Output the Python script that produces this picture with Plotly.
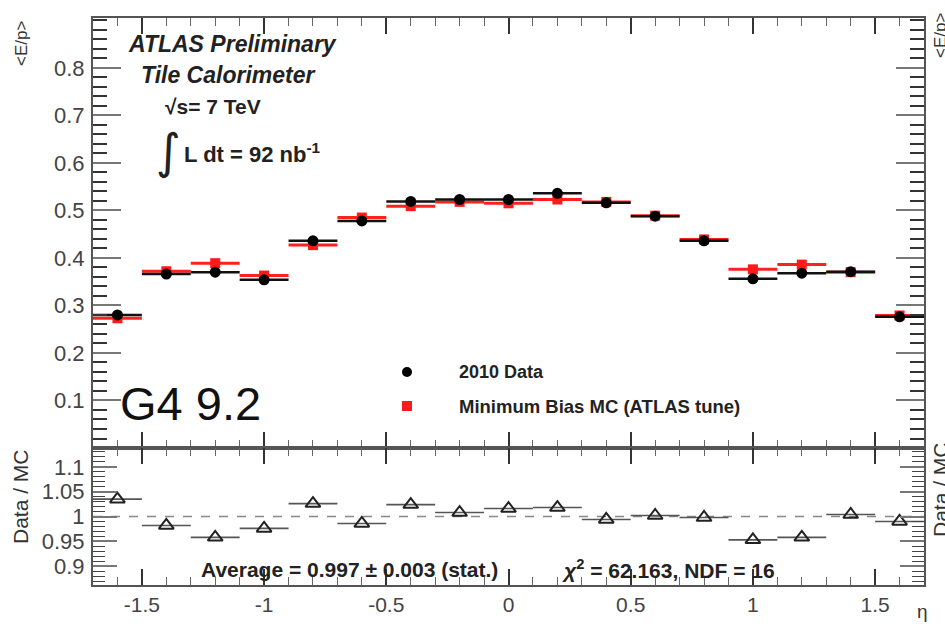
import plotly.graph_objects as go

# ---------------- data ----------------
eta = [-1.6, -1.4, -1.2, -1.0, -0.8, -0.6, -0.4, -0.2, 0.0, 0.2, 0.4, 0.6, 0.8, 1.0, 1.2, 1.4, 1.6]
half_width = [0.1] * 17
data_ep = [0.280, 0.366, 0.370, 0.354, 0.436, 0.478, 0.519, 0.523, 0.523, 0.536, 0.516, 0.488, 0.436, 0.356, 0.368, 0.371, 0.276]
mc_ep = [0.273, 0.372, 0.389, 0.363, 0.427, 0.485, 0.509, 0.518, 0.515, 0.523, 0.518, 0.489, 0.439, 0.376, 0.386, 0.370, 0.279]
ratio = [1.035, 0.982, 0.958, 0.976, 1.026, 0.986, 1.024, 1.008, 1.016, 1.018, 0.994, 1.002, 0.998, 0.953, 0.958, 1.004, 0.990]

x_tickvals = [-1.5, -1, -0.5, 0, 0.5, 1, 1.5]
x_ticktext = ["-1.5", "-1", "-0.5", "0", "0.5", "1", "1.5"]
top_tickvals = [0.1, 0.2, 0.3, 0.4, 0.5, 0.6, 0.7, 0.8]
top_ticktext = ["0.1", "0.2", "0.3", "0.4", "0.5", "0.6", "0.7", "0.8"]
bot_tickvals = [0.9, 0.95, 1.0, 1.05, 1.1]
bot_ticktext = ["0.9", "0.95", "1", "1.05", "1.1"]

W, H = 945, 624
def px(x):
    return x / W
def py(y):
    return 1 - y / H

FONT = "Liberation Sans, Arial, sans-serif"
AX = "#555555"

fig = go.Figure()

# MC (red squares)
fig.add_trace(go.Scatter(
    x=eta, y=mc_ep, mode="markers", name="Minimum Bias MC (ATLAS tune)",
    marker=dict(symbol="square", size=10, color="#ff1a1a"),
    error_x=dict(type="data", array=half_width, color="#ff2020", thickness=3, width=0),
    xaxis="x", yaxis="y", showlegend=False))
# Data (black circles)
fig.add_trace(go.Scatter(
    x=eta, y=data_ep, mode="markers", name="2010 Data",
    marker=dict(symbol="circle", size=11, color="black"),
    error_x=dict(type="data", array=half_width, color="#111111", thickness=2.5, width=0),
    xaxis="x", yaxis="y", showlegend=False))
# Ratio (open triangles)
fig.add_trace(go.Scatter(
    x=eta, y=ratio, mode="markers", name="Data / MC",
    marker=dict(symbol="triangle-up-open", size=13, color="#222222", line=dict(width=2)),
    error_x=dict(type="data", array=half_width, color="#555555", thickness=1.6, width=0),
    xaxis="x2", yaxis="y2", showlegend=False))

common_x = dict(range=[-1.7, 1.7], showgrid=False, zeroline=False, showline=True,
                linecolor=AX, linewidth=2, mirror="allticks", ticks="inside",
                ticklen=16, tickwidth=1.5, tickcolor="#333333",
                tickvals=x_tickvals,
                minor=dict(ticks="inside", dtick=0.1, tick0=0, ticklen=8, tickwidth=1.2,
                           tickcolor="#666666", showgrid=False))

fig.update_layout(
    width=W, height=H,
    margin=dict(l=0, r=0, t=0, b=0),
    paper_bgcolor="white", plot_bgcolor="white",
    font=dict(family=FONT, color="#333333"),
    xaxis=dict(domain=[px(93), px(924)], anchor="y", showticklabels=False, matches="x2",
               **common_x),
    xaxis2=dict(domain=[px(93), px(924)], anchor="y2", ticktext=x_ticktext,
                tickfont=dict(size=21, color="#444444", family=FONT), ticklabelstandoff=0,
                **common_x),
    yaxis=dict(domain=[py(448), py(18)], anchor="x", range=[0, 0.905],
               showgrid=False, zeroline=False, showline=True, linecolor=AX, linewidth=2,
               mirror="allticks", ticks="inside", ticklen=28, tickwidth=1.5, tickcolor="#777777",
               tickvals=top_tickvals, ticktext=top_ticktext,
               tickfont=dict(size=22, color="#444444", family=FONT), ticklabelstandoff=2,
               minor=dict(ticks="inside", dtick=0.02, tick0=0, ticklen=14, tickwidth=1.5,
                          tickcolor="#333333", showgrid=False)),
    yaxis2=dict(domain=[py(585), py(448)], anchor="x2", range=[0.862, 1.138],
                showgrid=False, zeroline=False, showline=True, linecolor=AX, linewidth=2,
                mirror="allticks", ticks="inside", ticklen=24, tickwidth=1.5, tickcolor="#777777",
                tickvals=bot_tickvals, ticktext=bot_ticktext,
                tickfont=dict(size=22, color="#444444", family=FONT), ticklabelstandoff=2,
                minor=dict(ticks="inside", dtick=0.01, tick0=0, ticklen=12, tickwidth=1.2,
                           tickcolor="#444444", showgrid=False)),
)

# dashed unity line in ratio panel
fig.add_shape(type="line", xref="x2", yref="y2", x0=-1.7, x1=1.7, y0=1, y1=1,
              line=dict(color="#888888", width=1.5, dash="dash"), layer="below")

# legend symbols (custom)
fig.add_shape(type="circle", xref="paper", yref="paper",
              x0=px(402), x1=px(412), y0=py(377), y1=py(367),
              fillcolor="black", line=dict(color="black", width=0))
fig.add_shape(type="rect", xref="paper", yref="paper",
              x0=px(402), x1=px(412), y0=py(411), y1=py(401),
              fillcolor="#ff1a1a", line=dict(color="#ff1a1a", width=0))

def ann(text, x, y, size, xanchor="center", bold=True, italic=False, color="#222222",
        family=FONT, textangle=0):
    t = text
    if bold:
        t = "<b>" + t + "</b>"
    if italic:
        t = "<i>" + t + "</i>"
    fig.add_annotation(text=t, x=px(x), y=py(y), xref="paper", yref="paper",
                       xanchor=xanchor, yanchor="middle", showarrow=False,
                       textangle=textangle,
                       font=dict(size=size, color=color, family=family))

ann("ATLAS Preliminary", 232, 44, 23, italic=True)
ann("Tile Calorimeter", 228, 75, 23, italic=True)
ann("√s= 7 TeV", 163, 106, 21, xanchor="left")
ann("∫", 168, 151, 48, bold=False, family="DejaVu Sans")
ann("L dt = 92 nb<sup>-1</sup>", 182, 153, 22, xanchor="left")
ann("G4 9.2", 118, 403, 47, xanchor="left", bold=False, color="#111111")
ann("2010 Data", 457, 372, 18, xanchor="left")
ann("Minimum Bias MC (ATLAS tune)", 457, 406, 18.5, xanchor="left")
ann("Average = 0.997 ± 0.003 (stat.)", 199, 569, 21, xanchor="left")
ann("<i>χ</i><sup>2</sup> = 62.163, NDF = 16", 560, 569, 21, xanchor="left")
ann("η", 922, 611, 19, bold=False, color="#333333")
ann("<E/p>", 22, 44, 17, bold=False, textangle=-90, color="#333333")
ann("Data / MC", 21, 497, 21, bold=False, textangle=-90, color="#333333")
ann("<E/p>", 940, 36, 17, bold=False, textangle=-90, color="#333333")
ann("Data / MC", 940, 490, 21, bold=False, textangle=-90, color="#333333")

fig.write_html("out.html")
